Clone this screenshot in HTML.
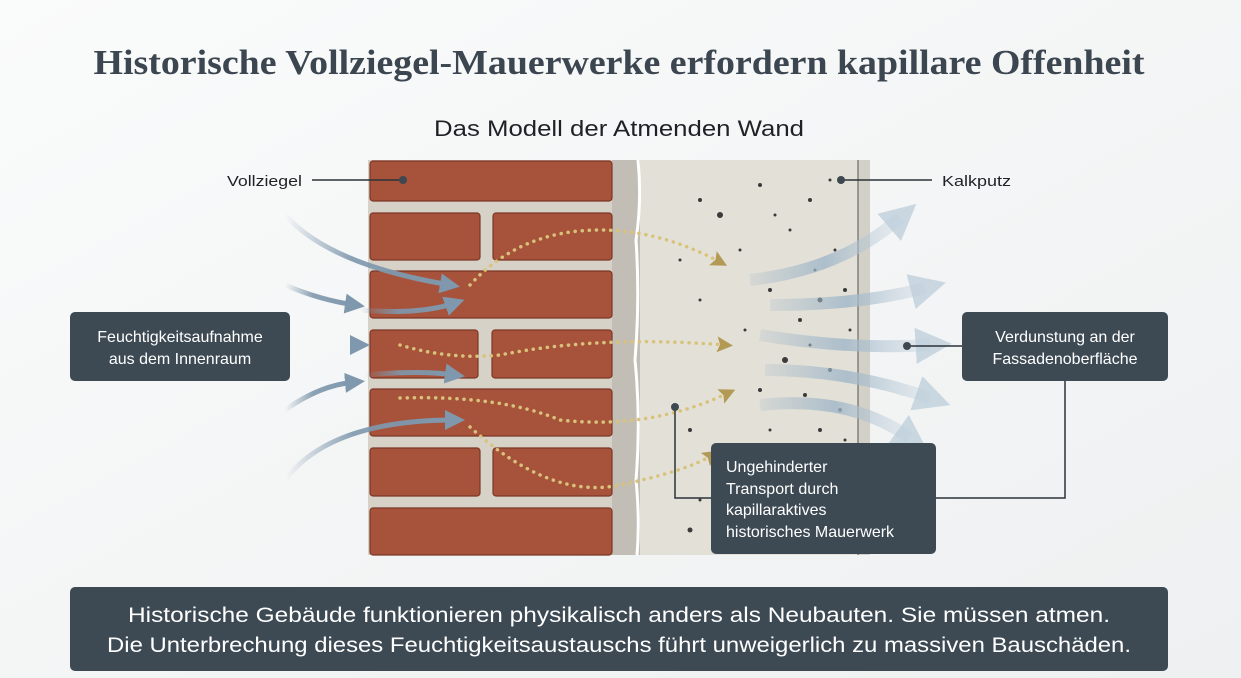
<!DOCTYPE html>
<html><head><meta charset="utf-8"><style>
html,body{margin:0;padding:0;background:#f7f8f8;}
svg{display:block;}
</style></head><body>
<svg width="1241" height="678" viewBox="0 0 1241 678" xmlns="http://www.w3.org/2000/svg" font-family="Liberation Sans, sans-serif">
<defs>
<linearGradient id="bg" x1="0" y1="0" x2="1" y2="1"><stop offset="0" stop-color="#fafbfb"/><stop offset="1" stop-color="#eef0f1"/></linearGradient>
<linearGradient id="ba" x1="0" x2="1"><stop offset="0" stop-color="#7f98ad" stop-opacity="0"/><stop offset="0.4" stop-color="#7f98ad" stop-opacity="0.9"/><stop offset="1" stop-color="#7f98ad"/></linearGradient>
<linearGradient id="ra" x1="0" x2="1"><stop offset="0" stop-color="#9fb6c8" stop-opacity="0.2"/><stop offset="0.5" stop-color="#9fb6c8" stop-opacity="0.8"/><stop offset="1" stop-color="#c5d3de" stop-opacity="0.3"/></linearGradient>
<marker id="bh" markerWidth="4" markerHeight="4" refX="2" refY="2" orient="auto" markerUnits="strokeWidth"><path d="M0,0 L4,2 L0,4z" fill="#7f98ad"/></marker>
<marker id="rh" markerWidth="3" markerHeight="3" refX="1.2" refY="1.5" orient="auto" markerUnits="strokeWidth"><path d="M0,0 L3,1.5 L0,3z" fill="#b8cad8" opacity="0.7"/></marker>
<marker id="gh" markerWidth="16" markerHeight="16" refX="8" refY="8" orient="auto" markerUnits="userSpaceOnUse"><path d="M0,0 L16,8 L0,16 L3,8z" fill="#b29a55"/></marker>
</defs>
<rect width="1241" height="678" fill="url(#bg)"/>
<text x="619" y="74" text-anchor="middle" font-family="Liberation Serif, serif" font-weight="bold" font-size="35" fill="#3b4650" textLength="1051" lengthAdjust="spacingAndGlyphs">Historische Vollziegel-Mauerwerke erfordern kapillare Offenheit</text>
<text x="619" y="136" text-anchor="middle" font-size="22" fill="#1e2226" textLength="370" lengthAdjust="spacingAndGlyphs">Das Modell der Atmenden Wand</text>

<!-- wall -->
<rect x="368" y="160" width="244" height="395" fill="#d6d2c8"/>
<rect x="612" y="160" width="28" height="395" fill="#c2beb5"/>
<rect x="640" y="160" width="218" height="395" fill="#e3e0d7"/>
<rect x="858" y="160" width="12" height="395" fill="#d3d0c7"/>
<line x1="858" y1="160" x2="858" y2="555" stroke="#555" stroke-width="1"/>
<path d="M638 160 Q642 200 636 240 Q640 300 635 360 Q641 420 636 480 Q640 520 637 555" stroke="#fff" stroke-width="3" fill="none"/>
<g fill="#a7533b" stroke="#7d3726" stroke-width="1.2">
<rect x="370" y="161" width="242" height="40" rx="3"/>
<rect x="370" y="213" width="110" height="47" rx="3"/><rect x="493" y="213" width="119" height="47" rx="3"/>
<rect x="370" y="271" width="242" height="47" rx="3"/>
<rect x="370" y="330" width="108" height="48" rx="3"/><rect x="492" y="330" width="120" height="48" rx="3"/>
<rect x="370" y="389" width="242" height="47" rx="3"/>
<rect x="370" y="448" width="110" height="48" rx="3"/><rect x="493" y="448" width="119" height="48" rx="3"/>
<rect x="370" y="508" width="242" height="47" rx="3"/>
</g>
<g fill="#3a3a3a">
<circle cx="700" cy="200" r="2"/><circle cx="720" cy="215" r="3"/><circle cx="760" cy="185" r="2"/><circle cx="790" cy="230" r="1.5"/><circle cx="810" cy="200" r="2"/><circle cx="835" cy="250" r="1.5"/><circle cx="770" cy="290" r="2"/><circle cx="800" cy="320" r="2"/><circle cx="820" cy="300" r="2.5"/><circle cx="745" cy="330" r="1.5"/><circle cx="785" cy="360" r="3"/><circle cx="830" cy="370" r="2"/><circle cx="760" cy="390" r="2"/><circle cx="805" cy="395" r="2"/><circle cx="840" cy="410" r="2"/><circle cx="690" cy="430" r="2"/><circle cx="720" cy="470" r="1.5"/><circle cx="690" cy="530" r="2.5"/><circle cx="700" cy="300" r="1.5"/><circle cx="680" cy="260" r="1.5"/><circle cx="830" cy="180" r="1.5"/><circle cx="850" cy="330" r="1.5"/>
<circle cx="740" cy="250" r="1.5"/><circle cx="775" cy="215" r="1.5"/><circle cx="815" cy="270" r="1.5"/><circle cx="845" cy="290" r="2"/><circle cx="810" cy="345" r="1.5"/><circle cx="770" cy="430" r="1.5"/><circle cx="820" cy="430" r="2"/><circle cx="845" cy="440" r="1.5"/><circle cx="700" cy="500" r="1.5"/>
</g>
<!-- golden dotted paths -->
<g stroke="#d9c27a" stroke-width="3.5" stroke-dasharray="0.1 7" stroke-linecap="round" fill="none" marker-end="url(#gh)">
<path d="M470 285 Q520 230 600 230 Q660 230 720 262"/>
<path d="M400 345 Q450 360 500 355 Q600 335 725 345"/>
<path d="M400 398 Q500 395 560 420 Q650 430 728 393"/>
<path d="M470 427 Q550 500 620 485 Q690 470 712 455"/>
</g>
<!-- blue left arrows -->
<g stroke="url(#ba)" stroke-width="5" fill="none" marker-end="url(#bh)">
<path d="M285 215 Q330 265 450 285"/>
<path d="M285 285 Q320 300 355 305"/>
<path d="M360 310 Q420 315 455 303"/>
<path d="M290 345 L360 345"/>
<path d="M365 375 Q420 370 455 375"/>
<path d="M285 410 Q320 385 355 382"/>
<path d="M285 480 Q330 420 455 420"/>
</g>
<!-- right evaporation arrows -->
<g stroke="url(#ra)" stroke-width="12" fill="none" marker-end="url(#rh)">
<path d="M750 280 Q840 270 900 218"/>
<path d="M770 305 Q860 305 925 288"/>
<path d="M760 335 Q850 350 930 345"/>
<path d="M765 370 Q850 370 930 398"/>
<path d="M760 405 Q850 395 910 438"/>
</g>
<!-- leader lines -->
<g stroke="#2b3238" stroke-width="1.5" fill="none">
<line x1="312" y1="180" x2="403" y2="180"/>
<line x1="841" y1="180" x2="932" y2="180"/>
<line x1="907" y1="346" x2="962" y2="346"/>
<polyline points="1065,381 1065,498 936,498"/>
<polyline points="675,407 675,498 711,498"/>
</g>
<g fill="#3d4850"><circle cx="403" cy="180" r="4"/><circle cx="841" cy="180" r="4"/><circle cx="907" cy="346" r="4"/><circle cx="675" cy="407" r="4"/></g>
<text x="227" y="186" font-size="15" fill="#1e2226" textLength="75" lengthAdjust="spacingAndGlyphs">Vollziegel</text>
<text x="942" y="186" font-size="15" fill="#1e2226" textLength="69" lengthAdjust="spacingAndGlyphs">Kalkputz</text>
<!-- boxes -->
<rect x="70" y="312" width="220" height="69" rx="5" fill="#3d4a53"/>
<text x="180" y="342" text-anchor="middle" font-size="16" fill="#fff">Feuchtigkeitsaufnahme</text>
<text x="180" y="364" text-anchor="middle" font-size="16" fill="#fff">aus dem Innenraum</text>
<rect x="962" y="312" width="206" height="69" rx="5" fill="#3d4a53"/>
<text x="1065" y="342" text-anchor="middle" font-size="16" fill="#fff">Verdunstung an der</text>
<text x="1065" y="364" text-anchor="middle" font-size="16" fill="#fff">Fassadenoberfläche</text>
<rect x="711" y="443" width="225" height="111" rx="5" fill="#3d4a53"/>
<g font-size="16" fill="#fff"><text x="726" y="472">Ungehinderter</text><text x="726" y="494">Transport durch</text><text x="726" y="515">kapillaraktives</text><text x="726" y="537">historisches Mauerwerk</text></g>
<rect x="70" y="587" width="1098" height="84" rx="5" fill="#3d4a53"/>
<text x="619" y="622" text-anchor="middle" font-size="21" fill="#fff" textLength="982" lengthAdjust="spacingAndGlyphs">Historische Gebäude funktionieren physikalisch anders als Neubauten. Sie müssen atmen.</text>
<text x="619" y="652" text-anchor="middle" font-size="21" fill="#fff" textLength="1024" lengthAdjust="spacingAndGlyphs">Die Unterbrechung dieses Feuchtigkeitsaustauschs führt unweigerlich zu massiven Bauschäden.</text>
</svg>
</body></html>
